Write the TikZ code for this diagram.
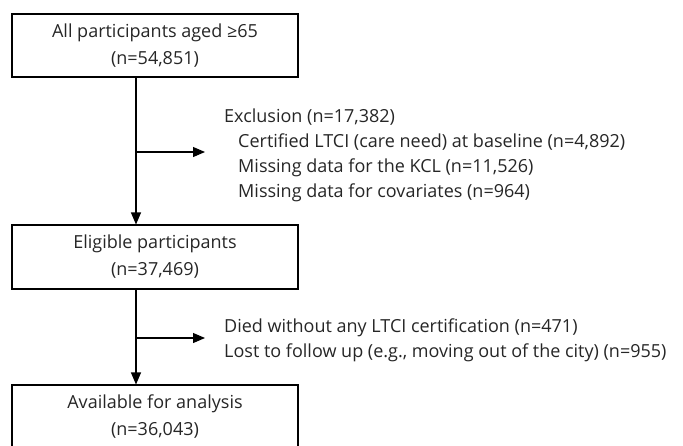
\documentclass[tikz,border=0pt]{standalone}
\usepackage{fontspec}
\setmainfont{Open Sans}
\usetikzlibrary{arrows.meta}
\begin{document}
\begin{tikzpicture}[x=1pt,y=1pt,
  box/.style={draw, line width=1.1pt, minimum width=286pt, inner sep=0pt, align=center,
    font=\fontsize{18}{27}\selectfont, text=black!85},
  side/.style={anchor=west, inner sep=0pt, align=left, font=\fontsize{18}{25}\selectfont, text=black!85},
  arr/.style={line width=1.1pt, -{Triangle[length=12pt,width=10pt]}}]
\useasboundingbox (0,0) rectangle (683,-445);
\begin{scope}
\clip (0,0) rectangle (683,-445);
\node[box, minimum height=63pt] (b1) at (155,-45.5) {All participants aged ≥65\\(n=54,851)};
\node[box, minimum height=64pt] (b2) at (155,-257) {Eligible participants\\(n=37,469)};
\node[box, minimum height=64pt] (b3) at (155,-417) {Available for analysis\\(n=36,043)};
\end{scope}
\coordinate (v) at (136,0);
\coordinate (j1) at (136,-152);
\coordinate (t1) at (205,-152);
\coordinate (j2) at (136,-338);
\coordinate (t2) at (205,-338);
\node[side] (e1) at (224,-155.5) {Exclusion (n=17,382)\\\hspace*{14pt}Certified LTCI (care need) at baseline (n=4,892)\\\hspace*{14pt}Missing data for the KCL (n=11,526)\\\hspace*{14pt}Missing data for covariates (n=964)};
\node[side] (e2) at (224,-340) {Died without any LTCI certification (n=471)\\Lost to follow up (e.g., moving out of the city) (n=955)};
\draw[arr] (b1.south -| v) -- (b2.north -| v);
\draw[arr] (j1) -- (t1);
\draw[arr] (b2.south -| v) -- (b3.north -| v);
\draw[arr] (j2) -- (t2);
\end{tikzpicture}
\end{document}
